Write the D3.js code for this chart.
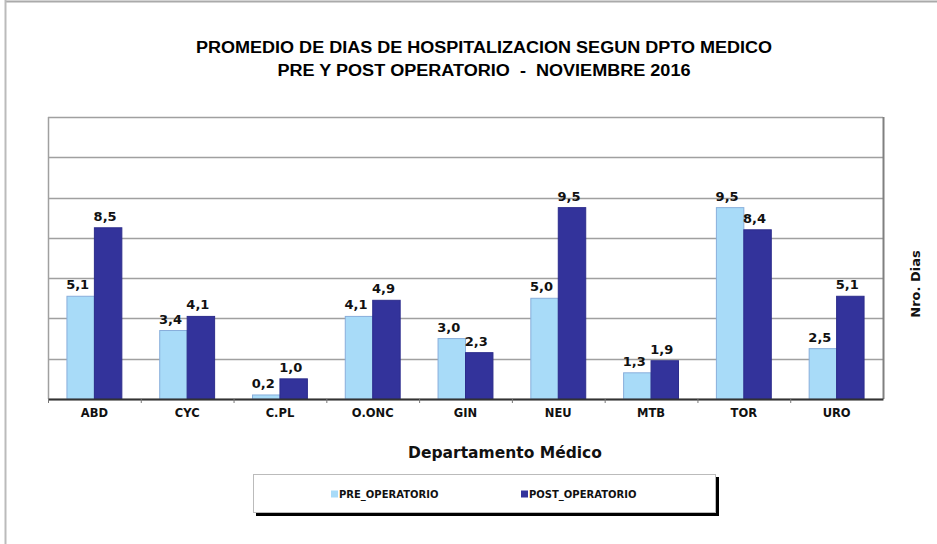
<!DOCTYPE html>
<html>
<head>
<meta charset="utf-8">
<script src="https://cdn.jsdelivr.net/npm/d3@7"></script>
<style>
  body { margin: 0; background: #fff; }
  svg { display: block; }
</style>
</head>
<body>
<div id="chart"></div>
<script>
// data
const departments = ["ABD", "CYC", "C.PL", "O.ONC", "GIN", "NEU", "MTB", "TOR", "URO"];
const seriesNames = ["PRE_OPERATORIO", "POST_OPERATORIO"];
const preValues = [5.1, 3.4, 0.2, 4.1, 3.0, 5.0, 1.3, 9.5, 2.5];
const postValues = [8.5, 4.1, 1.0, 4.9, 2.3, 9.5, 1.9, 8.4, 5.1];
const yTicks = [0, 2, 4, 6, 8, 10, 12, 14];

const colors = { PRE_OPERATORIO: "#a8dbf8", POST_OPERATORIO: "#33339b" };
const strokes = { PRE_OPERATORIO: "#88aedb", POST_OPERATORIO: "#2c2c8c" };

const width = 937, height = 544;
const plot = { left: 48, right: 883, top: 117, bottom: 399 };

const svg = d3.select("#chart")
  .append("svg")
  .attr("width", width)
  .attr("height", height);

// outer frame (only top and left visible)
svg.append("line").attr("x1", 5).attr("x2", width).attr("y1", 1.5).attr("y2", 1.5)
  .attr("stroke", "#aaa").attr("stroke-width", 2);
svg.append("line").attr("x1", 5.5).attr("x2", 5.5).attr("y1", 0).attr("y2", height)
  .attr("stroke", "#bbb").attr("stroke-width", 2);

// title
const titleFont = "'Liberation Sans', Arial, sans-serif";
svg.append("text")
  .attr("x", 484).attr("y", 53)
  .attr("text-anchor", "middle")
  .attr("font-family", titleFont).attr("font-weight", "bold").attr("font-size", 16)
  .attr("textLength", 576).attr("lengthAdjust", "spacingAndGlyphs")
  .text("PROMEDIO DE DIAS DE HOSPITALIZACION SEGUN DPTO MEDICO");
svg.append("text")
  .attr("x", 484).attr("y", 76)
  .attr("text-anchor", "middle")
  .style("white-space", "pre")
  .attr("font-family", titleFont).attr("font-weight", "bold").attr("font-size", 16)
  .attr("textLength", 413).attr("lengthAdjust", "spacingAndGlyphs")
  .text("PRE Y POST OPERATORIO  -  NOVIEMBRE 2016");

// scales
const x = d3.scaleBand()
  .domain(departments)
  .range([plot.left, plot.right]);

const x1 = d3.scaleBand()
  .domain(seriesNames)
  .range([0, x.bandwidth()])
  .paddingOuter(0.69);

const y = d3.scaleLinear()
  .domain([0, 14])
  .range([plot.bottom, plot.top]);

// gridlines
svg.append("g")
  .selectAll("line")
  .data(yTicks)
  .enter().append("line")
  .attr("x1", plot.left).attr("x2", plot.right)
  .attr("y1", d => Math.round(y(d)) + 0.5)
  .attr("y2", d => Math.round(y(d)) + 0.5)
  .attr("stroke", "#a0a0a0")
  .attr("stroke-width", 1.5);

// plot frame sides
svg.append("line").attr("x1", plot.left + 0.5).attr("x2", plot.left + 0.5)
  .attr("y1", plot.top).attr("y2", plot.bottom)
  .attr("stroke", "#a0a0a0").attr("stroke-width", 1.5);
svg.append("line").attr("x1", plot.right + 0.5).attr("x2", plot.right + 0.5)
  .attr("y1", plot.top).attr("y2", plot.bottom)
  .attr("stroke", "#808080").attr("stroke-width", 2);

// bars
const rows = departments.map((d, i) => ({ dept: d, PRE_OPERATORIO: preValues[i], POST_OPERATORIO: postValues[i] }));

const groups = svg.append("g")
  .selectAll("g")
  .data(rows)
  .enter().append("g")
  .attr("transform", d => "translate(" + x(d.dept) + ",0)");

const bars = groups.selectAll("g")
  .data(d => seriesNames.map(s => ({ key: s, value: d[s] })))
  .enter().append("g");

bars.append("rect")
  .attr("x", d => x1(d.key))
  .attr("y", d => y(d.value))
  .attr("width", x1.bandwidth())
  .attr("height", d => y(0) - y(d.value))
  .attr("fill", d => colors[d.key])
  .attr("stroke", d => strokes[d.key])
  .attr("stroke-width", 1);

bars.append("text")
  .attr("x", d => x1(d.key) + x1.bandwidth() / 2 - 3)
  .attr("y", d => y(d.value) - 7)
  .attr("text-anchor", "middle")
  .attr("font-family", "'DejaVu Sans', Verdana, sans-serif")
  .attr("font-weight", "bold")
  .attr("font-size", 13)
  .attr("fill", "#111")
  .text(d => d.value.toFixed(1).replace(".", ","));

// x axis
const xAxis = svg.append("g")
  .attr("transform", "translate(0," + plot.bottom + ")")
  .call(d3.axisBottom(x).tickSize(0).tickPadding(10));
xAxis.select(".domain").attr("stroke", "#333").attr("stroke-width", 2);
xAxis.selectAll("text")
  .attr("font-family", "'DejaVu Sans', Verdana, sans-serif")
  .attr("font-weight", "bold")
  .attr("font-size", 11.5)
  .attr("fill", "#111");

// ticks between categories
svg.append("g")
  .selectAll("line")
  .data(departments)
  .enter().append("line")
  .attr("x1", d => x(d) + 0.5).attr("x2", d => x(d) + 0.5)
  .attr("y1", plot.bottom).attr("y2", plot.bottom + 4)
  .attr("stroke", "#777");

// axis titles
svg.append("text")
  .attr("x", 505).attr("y", 458)
  .attr("text-anchor", "middle")
  .attr("font-family", "'DejaVu Sans', Verdana, sans-serif")
  .attr("font-weight", "bold")
  .attr("font-size", 15.5)
  .attr("fill", "#111")
  .text("Departamento Médico");

svg.append("text")
  .attr("transform", "translate(920,284) rotate(-90)")
  .attr("text-anchor", "middle")
  .attr("font-family", "'DejaVu Sans', Verdana, sans-serif")
  .attr("font-weight", "bold")
  .attr("font-size", 13)
  .attr("fill", "#111")
  .text("Nro. Dias");

// legend with shadow
const legend = svg.append("g");
legend.append("rect")
  .attr("x", 256).attr("y", 477).attr("width", 463).attr("height", 39)
  .attr("fill", "#000");
legend.append("rect")
  .attr("x", 253.5).attr("y", 474.5).attr("width", 462).attr("height", 38)
  .attr("fill", "#fff").attr("stroke", "#bbb").attr("stroke-width", 1);

const legendX = { PRE_OPERATORIO: 331, POST_OPERATORIO: 521 };
const items = legend.selectAll("g.item")
  .data(seriesNames)
  .enter().append("g")
  .attr("class", "item")
  .attr("transform", d => "translate(" + legendX[d] + ",494)");
items.append("rect")
  .attr("x", 0).attr("y", -3.5).attr("width", 7).attr("height", 7)
  .attr("fill", d => colors[d]);
items.append("text")
  .attr("x", 8).attr("y", 3.5)
  .attr("font-family", "'DejaVu Sans', Verdana, sans-serif")
  .attr("font-weight", "bold")
  .attr("font-size", 10)
  .attr("fill", "#111")
  .text(d => d);
</script>
</body>
</html>
